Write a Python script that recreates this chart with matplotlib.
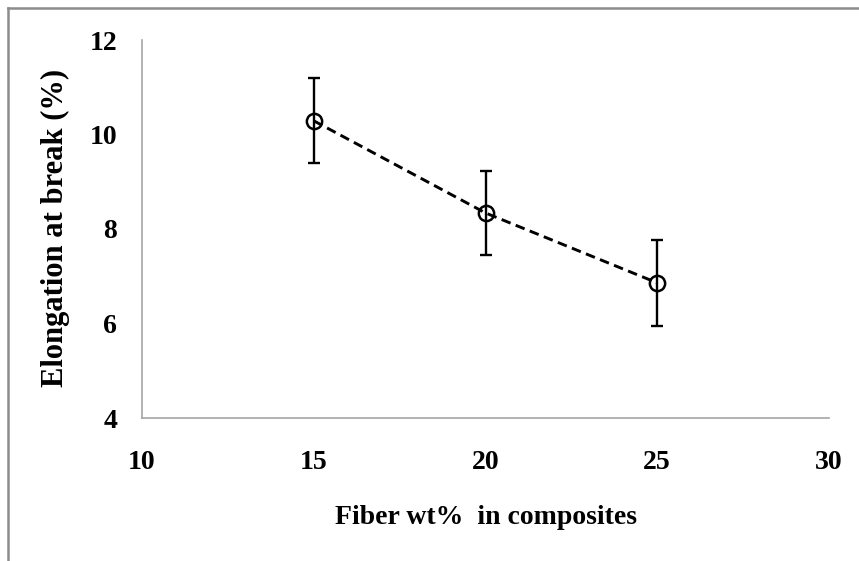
import matplotlib
matplotlib.use("Agg")
import matplotlib.pyplot as plt
from matplotlib.lines import Line2D

fiber_wt = [15, 20, 25]
elongation = [10.29, 8.34, 6.86]
elong_err = [0.90, 0.88, 0.91]
x_ticks = [10, 15, 20, 25, 30]
y_ticks = [4, 6, 8, 10, 12]

plt.rcParams['font.family'] = ['Liberation Serif', 'DejaVu Serif']
plt.rcParams['font.weight'] = 'bold'

fig = plt.figure(figsize=(8.59, 5.61), dpi=100)
ax = fig.add_axes([142/859, 1-418/561, (829-142)/859, (418-40)/561])

ax.errorbar(fiber_wt, elongation, yerr=elong_err, fmt='none', ecolor='black',
            elinewidth=1.7, capsize=4.5, capthick=1.7, zorder=2)
ax.plot(fiber_wt, elongation, color='black', linestyle=(0, (3.3, 1.9)), linewidth=2.1,
        marker='o', markersize=11, markerfacecolor='none', markeredgecolor='black',
        markeredgewidth=1.8, zorder=3)

ax.set_xlim(10, 30)
ax.set_ylim(4, 12)
ax.set_xticks(x_ticks)
ax.set_yticks(y_ticks)
ax.tick_params(length=0, labelsize=20)
ax.tick_params(axis='x', pad=23)
ax.tick_params(axis='y', pad=18)
for lab in ax.get_xticklabels() + ax.get_yticklabels():
    lab.set_fontweight('bold')

for s in ['top', 'right']:
    ax.spines[s].set_visible(False)
for s in ['left', 'bottom']:
    ax.spines[s].set_color('#a6a6a6')
    ax.spines[s].set_linewidth(1.2)

fig.text(486/859, 1-518/561, 'Fiber wt%  in composites', ha='center', va='center',
         fontsize=20, fontweight='bold')
fig.text(55/859, 1-228/561, 'Elongation at break (%)', ha='center', va='center',
         rotation=90, fontsize=22, fontweight='bold')

# outer frame (gray border on left and top)
fig.add_artist(Line2D([8/859, 8/859], [0, 1-8/561], transform=fig.transFigure,
                      color='#8c8c8c', linewidth=1.8))
fig.add_artist(Line2D([8/859, 1], [1-8/561, 1-8/561], transform=fig.transFigure,
                      color='#8c8c8c', linewidth=1.8))

fig.savefig('out.png', dpi=100)
